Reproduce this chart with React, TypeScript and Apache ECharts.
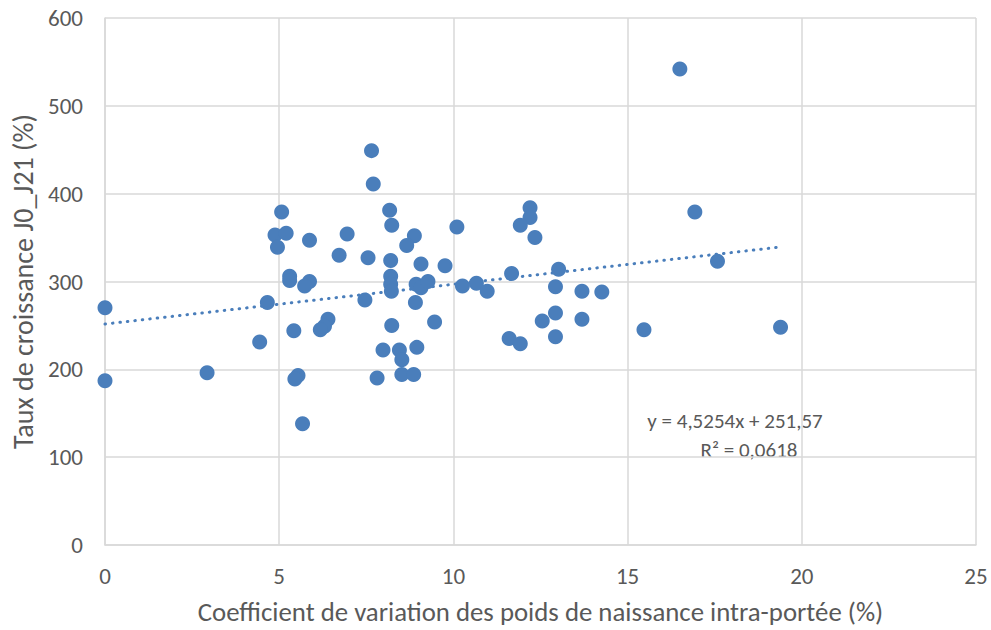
import React, { useEffect, useRef } from "react";
import * as echarts from "echarts";

const xValues = [0, 0, 2.93, 4.44, 4.66, 5.07, 4.88, 5.2, 4.95, 5.3, 5.3, 5.87, 6.95, 6.72, 7.55, 7.65, 7.7, 8.17, 8.23, 8.88, 8.66, 8.2, 9.07, 9.76, 10.1, 8.2, 8.2, 8.22, 5.87, 5.73, 8.93, 9.07, 9.27, 10.26, 10.66, 7.46, 8.91, 9.46, 6.4, 6.3, 6.18, 5.42, 8.23, 7.98, 8.45, 8.52, 8.95, 7.81, 8.52, 8.86, 5.54, 5.45, 5.67, 12.2, 12.2, 11.92, 12.34, 10.97, 11.67, 13.02, 12.93, 13.69, 14.26, 12.93, 12.55, 13.69, 11.6, 11.92, 12.93, 15.47, 16.5, 16.93, 17.58, 19.39];
const yValues = [270, 187, 196, 231, 276, 379, 353, 355, 339, 306, 301, 347, 354, 330, 327, 449, 411, 381, 364, 352, 341, 324, 320, 318, 362, 306, 297, 289, 300, 295, 297, 293, 300, 295, 298, 279, 276, 254, 257, 249, 245, 244, 250, 222, 222, 211, 225, 190, 194, 194, 193, 189, 138, 384, 373, 364, 350, 289, 309, 314, 294, 289, 288, 264, 255, 257, 235, 229, 237, 245, 542, 379, 323, 248];
const slope = 4.5254;
const intercept = 251.57;
const equationLines = ["y = 4,5254x + 251,57", "R² = 0,0618"];
const xTitle = "Coefficient de variation des poids de naissance intra-portée (%)";
const yTitle = "Taux de croissance J0_J21 (%)";

const FONT = "Carlito, 'Liberation Sans Narrow', 'Liberation Sans', sans-serif";
const TXT = "#595959";
const GRID = "#d9d9d9";
const BLUE = "#4a7ebb";

export default function App() {
  const ref = useRef<HTMLDivElement>(null);
  useEffect(() => {
    if (!ref.current) return;
    const chart = echarts.init(ref.current, undefined, { renderer: "svg" });
    const pts = xValues.map((x, i) => [x, yValues[i]]);
    const xMax = Math.max(...xValues);
    const trend = [
      [0, intercept],
      [xMax, slope * xMax + intercept],
    ];
    chart.setOption({
      animation: false,
      textStyle: { fontFamily: FONT },
      grid: { left: 105, right: 15, top: 18, bottom: 83, containLabel: false },
      xAxis: {
        type: "value",
        min: 0,
        max: 25,
        interval: 5,
        name: xTitle,
        nameLocation: "middle",
        nameGap: 53,
        nameTextStyle: { color: TXT, fontSize: 26.8, fontFamily: FONT },
        axisLine: { show: true, lineStyle: { color: GRID, width: 1.5 } },
        axisTick: { show: false },
        axisLabel: { color: TXT, fontSize: 23, margin: 19, fontFamily: FONT },
        splitLine: { show: true, lineStyle: { color: GRID, width: 1.5 } },
      },
      yAxis: {
        type: "value",
        min: 0,
        max: 600,
        interval: 100,
        name: yTitle,
        nameLocation: "middle",
        nameGap: 66,
        nameTextStyle: { color: TXT, fontSize: 28, fontFamily: FONT },
        axisLine: { show: true, lineStyle: { color: GRID, width: 1.5 } },
        axisTick: { show: false },
        axisLabel: { color: TXT, fontSize: 23, margin: 22, fontFamily: FONT },
        splitLine: { show: true, lineStyle: { color: GRID, width: 1.5 } },
      },
      series: [
        {
          type: "line",
          data: trend,
          symbol: "none",
          lineStyle: { color: BLUE, width: 3, type: [0.5, 7], cap: "round" },
          z: 2,
        },
        {
          type: "scatter",
          data: pts,
          symbolSize: 15,
          itemStyle: { color: BLUE, opacity: 1 },
          z: 3,
        },
      ],
      graphic: [
        {
          type: "text",
          x: 735,
          y: 421,
          style: {
            text: equationLines[0],
            fill: TXT,
            font: `21px ${FONT}`,
            align: "center",
            verticalAlign: "middle",
          },
        },
        {
          type: "text",
          x: 749,
          y: 450,
          style: {
            text: equationLines[1],
            fill: TXT,
            font: `21px ${FONT}`,
            align: "center",
            verticalAlign: "middle",
          },
        },
      ],
    });
    return () => chart.dispose();
  }, []);
  return <div ref={ref} style={{ width: 991, height: 630, position: "absolute", left: 0, top: 0 }} />;
}
